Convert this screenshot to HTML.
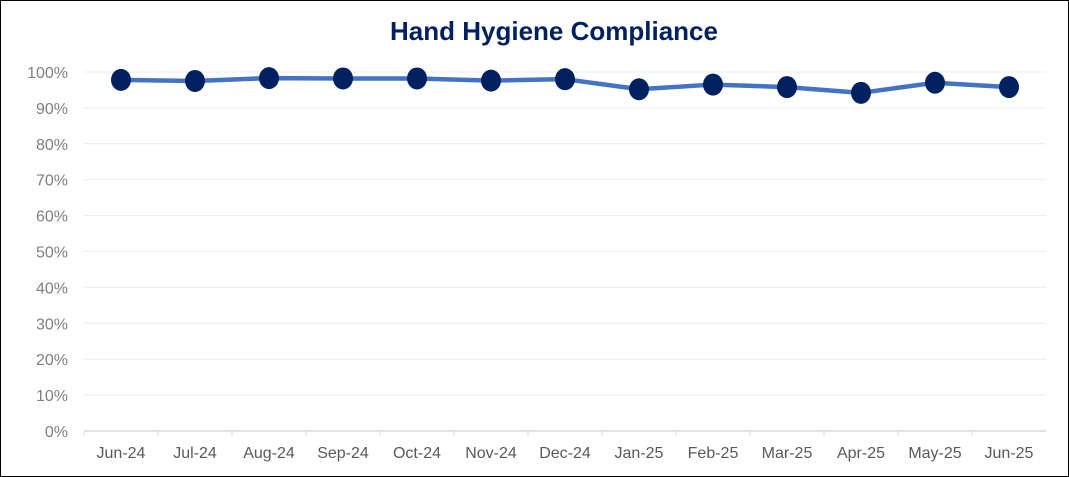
<!DOCTYPE html>
<html><head><meta charset="utf-8"><style>
body{margin:0;background:#fff;}
svg{display:block;font-family:"Liberation Sans",Arial,sans-serif;}
</style></head><body>
<svg id="chart" width="1069" height="477">
<rect x="0.5" y="0.5" width="1068" height="476" fill="#fff" stroke="#000"/>
<text x="554" y="40" text-anchor="middle" font-size="26" font-weight="bold" fill="#002060">Hand Hygiene Compliance</text>
<g id="grid"></g><g id="yt"></g><g id="xt"></g><g id="series"></g>
</svg>
<script>
const categories=["Jun-24","Jul-24","Aug-24","Sep-24","Oct-24","Nov-24","Dec-24","Jan-25","Feb-25","Mar-25","Apr-25","May-25","Jun-25"];
const compliance=[97.8,97.5,98.3,98.2,98.2,97.6,98.0,95.2,96.5,95.8,94.2,97.0,95.8];
const yTicks=[0,10,20,30,40,50,60,70,80,90,100];
const NS="http://www.w3.org/2000/svg";
const L=84,R=1046,Y0=431,Y100=72;
const step=(R-L)/categories.length;
const x=i=>L+step*(i+0.5);
const y=v=>Y0-(Y0-Y100)*v/100;
function mk(t,a,p){const e=document.createElementNS(NS,t);for(const k in a)e.setAttribute(k,a[k]);p.appendChild(e);return e;}
const grid=document.getElementById('grid'),yt=document.getElementById('yt'),xt=document.getElementById('xt'),ser=document.getElementById('series');
yTicks.forEach(v=>{
  const g=mk('line',{x1:L,x2:R,y1:y(v),y2:y(v),stroke:v===0?'#d9d9d9':'#ececec','stroke-width':v===0?1.5:1},grid);
  
  
  const t=mk('text',{x:68,y:y(v)+6,'text-anchor':'end','font-size':16,fill:'#7f7f7f'},yt);
  t.textContent=v+'%';
  
  
});
categories.forEach((c,i)=>{
  const tk=mk('line',{x1:L+step*i,x2:L+step*i,y1:Y0,y2:Y0+5,stroke:'#d9d9d9'},xt);
  
  
  const t=mk('text',{x:x(i),y:458,'text-anchor':'middle','font-size':16,fill:'#595959'},xt);
  t.textContent=c;
  
  
});
const pl=mk('polyline',{points:compliance.map((v,i)=>x(i)+','+y(v)).join(' '),fill:'none',stroke:'#4472c4','stroke-width':4.5,'stroke-linejoin':'round'},ser);


compliance.forEach((v,i)=>{
  const c=mk('ellipse',{cx:x(i),cy:y(v),rx:10,ry:11,fill:'#002060'},ser);
  
  
});
</script>
</body></html>
